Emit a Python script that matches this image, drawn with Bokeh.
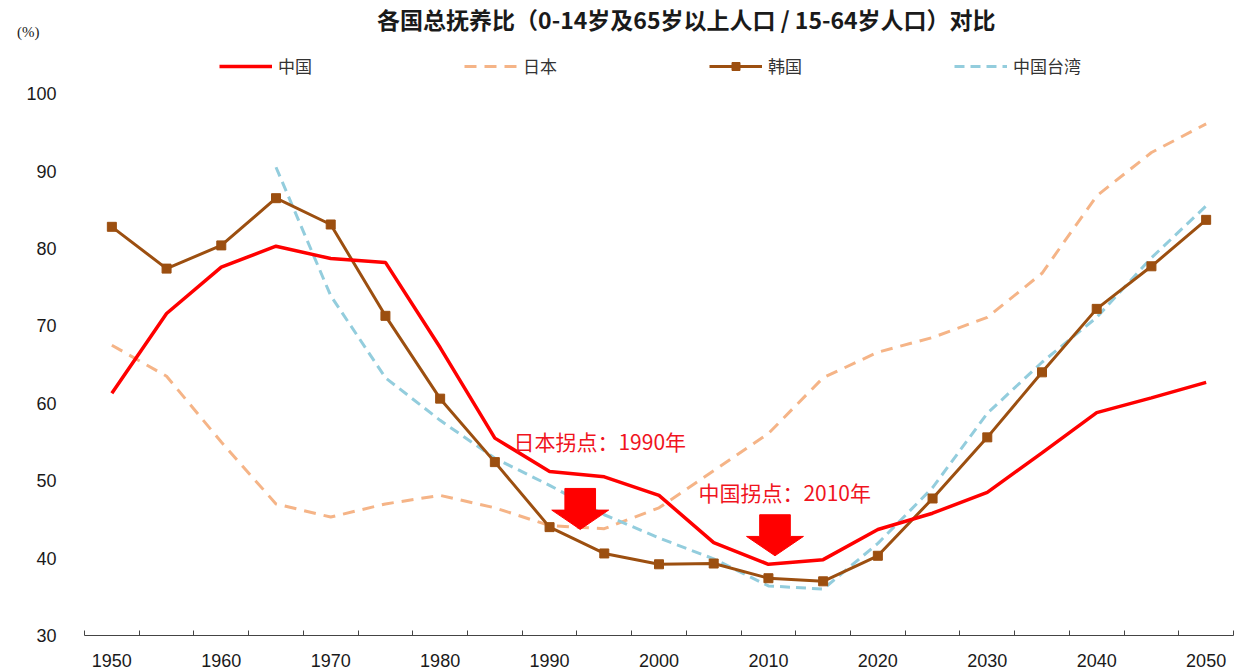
from bokeh.plotting import figure
from bokeh.models import (FixedTicker, Label, Legend, LegendItem, LinearAxis,
                          Range1d)
from bokeh.embed import file_html
from bokeh.resources import INLINE

# Total dependency ratio, (0-14 + 65+) / (15-64), in %
years = list(range(1950, 2051, 5))
china = [61.3, 71.6, 77.6, 80.3, 78.7, 78.2, 67.2, 55.5, 51.2, 50.5, 48.1,
         42.0, 39.2, 39.8, 43.7, 45.8, 48.5, 53.6, 58.8, 60.7, 62.7]
japan = [67.5, 63.5, 55.0, 47.0, 45.3, 47.0, 48.1, 46.5, 44.2, 43.8, 46.5,
         51.3, 56.1, 63.3, 66.6, 68.5, 71.1, 76.8, 86.8, 92.4, 96.1]
korea = [82.8, 77.4, 80.4, 86.5, 83.1, 71.3, 60.6, 52.4, 44.0, 40.6, 39.2,
         39.3, 37.4, 37.0, 40.3, 47.7, 55.6, 64.0, 72.2, 77.7, 83.7]
taiwan_years = list(range(1965, 2051, 5))
taiwan = [90.5, 73.9, 63.3, 57.8, 52.9, 49.4, 45.6, 42.6, 39.9, 36.4, 36.0,
          41.9, 49.1, 58.7, 65.3, 71.1, 78.8, 85.5]

x_labels = list(range(1950, 2051, 10))
y_labels = list(range(30, 101, 10))

turning_points = ["日本拐点：1990年", "中国拐点：2010年"]

NUM_FONT = "Liberation Sans"
CJK_FONT = "Noto Sans CJK SC"

# The value range keeps headroom above 100 for the title and the legend
Y_TOP = 112.04

p = figure(width=1237, height=671, output_backend="svg", toolbar_location=None,
           x_range=Range1d(1947.5, 2052.5), y_range=Range1d(30, Y_TOP),
           min_border_left=84, min_border_right=4, min_border_top=0,
           min_border_bottom=36)
p.outline_line_color = None
p.background_fill_color = "white"
p.border_fill_color = "white"
p.xgrid.visible = False
p.ygrid.visible = False

# x axis: labels every decade, tick marks between the 5-year slots
p.xaxis.ticker = FixedTicker(ticks=x_labels,
                             minor_ticks=[y - 2.5 for y in years] + [2052.5])
p.xaxis.major_tick_line_color = None
p.xaxis.minor_tick_in = 5
p.xaxis.minor_tick_out = 0
p.xaxis.minor_tick_line_color = "#444444"
p.xaxis.axis_line_color = "#444444"
p.xaxis.axis_line_width = 1
p.xaxis.major_label_standoff = 12
p.xaxis.major_label_text_font = NUM_FONT
p.xaxis.major_label_text_font_size = "18px"
p.xaxis.major_label_text_color = "#1a1a1a"

p.yaxis.ticker = FixedTicker(ticks=y_labels)
p.yaxis.axis_line_color = None
p.yaxis.major_tick_line_color = None
p.yaxis.minor_tick_line_color = None
p.yaxis.major_label_standoff = 22
p.yaxis.major_label_text_font = NUM_FONT
p.yaxis.major_label_text_font_size = "18px"
p.yaxis.major_label_text_color = "#1a1a1a"

# Unit marker at the top-left, set as a single-label outer axis
unit_axis = LinearAxis(ticker=FixedTicker(ticks=[108.0]),
                       major_label_overrides={108.0: "(%)"},
                       axis_line_color=None, major_tick_line_color=None,
                       minor_tick_line_color=None, major_label_standoff=-22,
                       major_label_text_font="Liberation Serif",
                       major_label_text_font_size="15px",
                       major_label_text_color="#1a1a1a")
p.add_layout(unit_axis, "left")

RED = "#FF0000"
BROWN = "#9C4F10"
ORANGE = "#F5B487"
BLUE = "#93CDDD"

r_japan = p.line(years, japan, line_color=ORANGE, line_width=3,
                 line_dash="12 8")
r_taiwan = p.line(taiwan_years, taiwan, line_color=BLUE, line_width=3,
                  line_dash="10 6")
r_korea = p.line(years, korea, line_color=BROWN, line_width=3)
r_korea_m = p.scatter(years, korea, marker="square", size=9,
                      fill_color=BROWN, line_color=BROWN)
r_china = p.line(years, china, line_color=RED, line_width=3.5)

# Down arrows marking the turning points
arrow_x = [1992.8, 2010.6]
arrow_tip = [43.7, 40.3]
for ax, tip in zip(arrow_x, arrow_tip):
    xs = [ax - 1.4, ax + 1.4, ax + 1.4, ax + 2.6, ax, ax - 2.6, ax - 1.4]
    ys = [tip + 5.3, tip + 5.3, tip + 2.5, tip + 2.5, tip, tip + 2.5, tip + 2.5]
    p.patch(xs, ys, fill_color="#FF0000", line_color="#FF0000")

label_pos = [(1986.7, 55.1), (2003.6, 48.5)]
for txt, (lx, ly) in zip(turning_points, label_pos):
    p.add_layout(Label(x=lx, y=ly, text=txt, text_font=CJK_FONT,
                       text_font_size="21px", text_color="#F0141E",
                       text_baseline="middle", text_align="left"))

# Chart title across the top
p.add_layout(Label(x=2002.5, y=109.7, text="各国总抚养比（0-14岁及65岁以上人口 / 15-64岁人口）对比",
                   text_font=CJK_FONT, text_font_size="23px",
                   text_font_style="bold", text_color="#1a1a1a",
                   text_align="center", text_baseline="middle"))

legend = Legend(items=[
    LegendItem(label="中国", renderers=[r_china]),
    LegendItem(label="日本", renderers=[r_japan]),
    LegendItem(label="韩国", renderers=[r_korea, r_korea_m]),
    LegendItem(label="中国台湾", renderers=[r_taiwan]),
], orientation="horizontal", location=(135, 557),
    glyph_width=53, glyph_height=20, label_standoff=6, label_width=36,
    spacing=150, padding=0, margin=0,
    label_text_font=CJK_FONT, label_text_font_size="17px",
    label_text_color="#333333",
    border_line_color=None, background_fill_alpha=0)
p.add_layout(legend, "center")

open("out.html", "w").write(file_html(p, INLINE))
